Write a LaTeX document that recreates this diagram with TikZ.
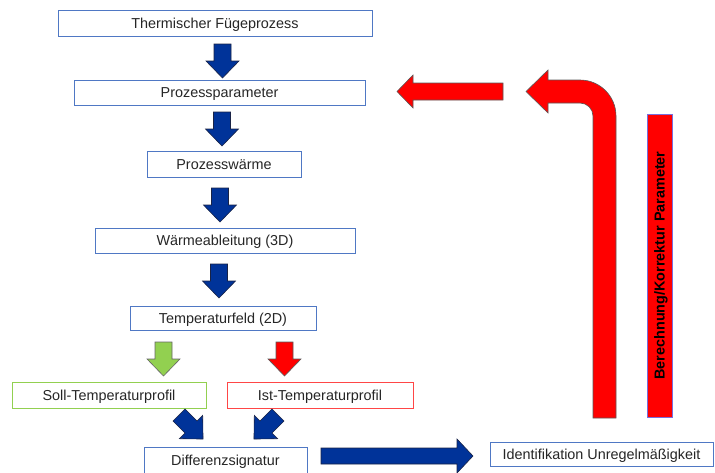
\documentclass[tikz,border=0pt]{standalone}
\usepackage{fontspec}
\setmainfont{Liberation Sans}
\definecolor{boxblue}{RGB}{79,120,196}
\definecolor{arrblue}{RGB}{0,51,153}
\definecolor{arrline}{RGB}{25,35,70}
\definecolor{boxgreen}{RGB}{146,208,80}
\definecolor{arrgreen}{RGB}{146,208,80}
\definecolor{boxred}{RGB}{255,70,70}
\definecolor{pureRed}{RGB}{255,0,0}
\definecolor{purpleline}{RGB}{120,110,220}
\begin{document}
\begin{tikzpicture}[x=1pt,y=-1pt,
  txt/.style={font=\fontsize{14.4}{17}\selectfont, text=black!85, inner sep=0pt, text height=10.3pt, text depth=0pt},
  procbox/.style={txt, draw=boxblue, line width=0.9pt, fill=white},
  greenbox/.style={txt, draw=boxgreen, line width=0.9pt, fill=white},
  redbox/.style={txt, draw=boxred, line width=0.9pt, fill=white},
  bluefat/.style={fill=arrblue, draw=arrline, line width=0.6pt},
  greenfat/.style={fill=arrgreen, draw=black!60, line width=0.6pt},
  redfat/.style={fill=pureRed, draw=black!65, line width=0.6pt},
  downarr/.pic={\path[pic actions] (-8.5,0) -- (8.5,0) -- (8.5,17) -- (16.5,17) -- (0,34) -- (-16.5,17) -- (-8.5,17) -- cycle;}
]
\clip (0,0) rectangle (715,472);
\useasboundingbox (0,0) rectangle (715,472);

% boxes
\node[procbox, minimum width=314pt, minimum height=26pt] (fp) at (215,23) {Thermischer Fügeprozess};
\node[procbox, minimum width=291pt, minimum height=25pt] (pp) at (219.5,92.5) {Prozessparameter};
\node[procbox, minimum width=154pt, minimum height=26pt] (pw) at (224,164) {Prozesswärme};
\node[procbox, minimum width=260pt, minimum height=25pt] (wa) at (225,240.5) {Wärmeableitung (3D)};
\node[procbox, minimum width=186pt, minimum height=24pt] (tf) at (223,318) {Temperaturfeld (2D)};
\node[greenbox, minimum width=194pt, minimum height=26pt] (soll) at (109,395) {Soll-Temperaturprofil};
\node[redbox, minimum width=186pt, minimum height=26pt] (ist) at (320,395) {Ist-Temperaturprofil};
\node[procbox, minimum width=163pt, minimum height=27pt] (ds) at (225.5,460.5) {Differenzsignatur};
\node[procbox, minimum width=223pt, minimum height=24pt] (iu) at (601.5,454) {Identifikation Unregelmäßigkeit};
\node[fill=pureRed, draw=purpleline, line width=0.9pt, minimum width=25pt, minimum height=303pt, inner sep=0pt] (bk) at (659.5,265.5) {};
\node[rotate=90, font=\fontsize{14.4}{17}\selectfont\bfseries, text=black, inner sep=0pt, text height=10.3pt, text depth=0pt] (bktxt) at (bk.center) {Berechnung/Korrektur Parameter};

% blue down arrows
\pic[bluefat] at (222.5,44) {downarr};
\pic[bluefat] at (222,112) {downarr};
\pic[bluefat] at (220,188) {downarr};
\pic[bluefat] at (219,264) {downarr};
% green / red arrows
\pic[greenfat] at (163.5,342) {downarr};
\pic[redfat] at (284.5,342) {downarr};
% diagonal arrows
\pic[bluefat, rotate=45] at (179,415) {downarr};
\pic[bluefat, rotate=-45] at (278,415) {downarr};

% horizontal blue arrow
\path[bluefat] (321,448) -- (457,448) -- (457,439) -- (473,456) -- (457,473) -- (457,464) -- (321,464) -- cycle;

% red left arrow
\path[redfat] (503,83) -- (413,83) -- (413,75) -- (397,91.5) -- (413,108) -- (413,100) -- (503,100) -- cycle;

% bent red arrow
\path[redfat] (526,91.5) -- (548,70) -- (548,80) -- (580,80)
  .. controls (599.9,80) and (616,96.1) .. (616,116) -- (616,418) -- (593,418) -- (593,116)
  .. controls (593,108.8) and (587.2,103) .. (580,103) -- (548,103) -- (548,113) -- cycle;
\end{tikzpicture}
\end{document}
